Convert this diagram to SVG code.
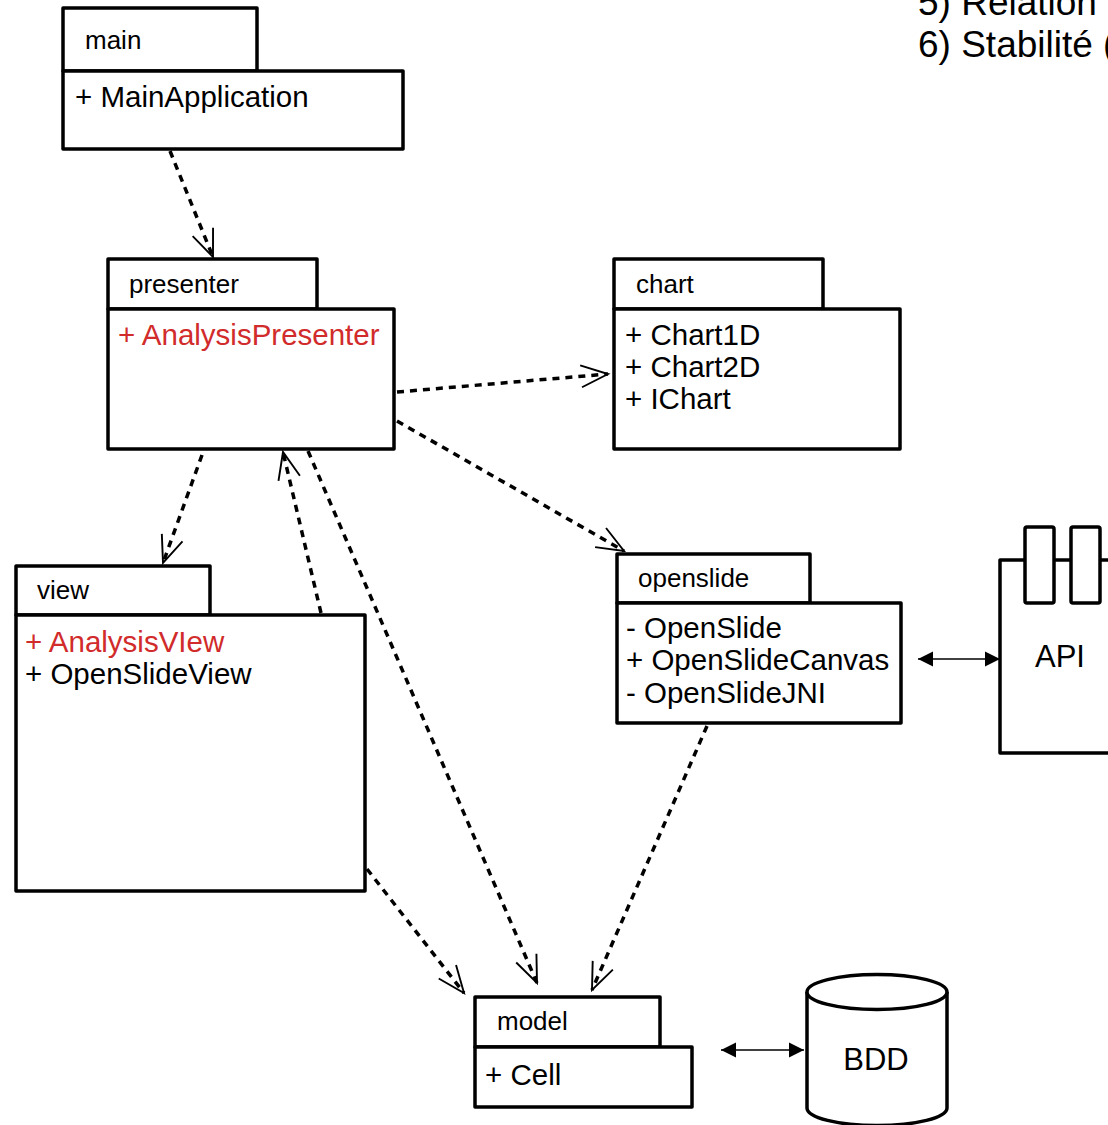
<svg xmlns="http://www.w3.org/2000/svg" width="1108" height="1125" viewBox="0 0 1108 1125">
  <style>
    text { font-family: "Liberation Sans", Arial, sans-serif; fill: #000; }
    .box { fill: #fff; stroke: #000; stroke-width: 3.5; stroke-linejoin: round; }
    .tab { font-size: 26px; }
    .item { font-size: 29.5px; }
    .red { fill: #d12b2b; }
    .dep { fill: none; stroke: #000; stroke-width: 3.5; stroke-dasharray: 7 6; marker-end: url(#open); }
    .link { fill: none; stroke: #000; stroke-width: 1.4; marker-start: url(#solid); marker-end: url(#solid); }
    .note { font-size: 37px; }
  </style>
  <defs>
    <marker id="open" markerUnits="userSpaceOnUse" orient="auto" refX="0" refY="0" markerWidth="40" markerHeight="40" style="overflow:visible">
      <path d="M-27,-11 L0,0 L-27,11" fill="none" stroke="#000" stroke-width="1.9" stroke-dasharray="none"/>
    </marker>
    <marker id="solid" markerUnits="userSpaceOnUse" orient="auto-start-reverse" refX="0" refY="0" markerWidth="30" markerHeight="30" style="overflow:visible">
      <path d="M-15,-7.5 L0,0 L-15,7.5 Z" fill="#000" stroke="none"/>
    </marker>
  </defs>

  <rect width="1108" height="1125" fill="#fff"/>

  <!-- notes list, top right -->
  <g id="notes">
    <text class="note" x="918" y="15">5) Relation</text>
    <text class="note" x="918" y="57">6) Stabilité (</text>
  </g>

  <!-- dependency connectors -->
  <g id="connectors">
    <line class="dep" x1="170" y1="151" x2="213" y2="257"/>
    <line class="dep" x1="397" y1="392" x2="608" y2="374"/>
    <line class="dep" x1="397" y1="421" x2="624" y2="551"/>
    <line class="dep" x1="202" y1="455" x2="163" y2="563"/>
    <line class="dep" x1="321" y1="613" x2="283" y2="452"/>
    <line class="dep" x1="308" y1="451" x2="537" y2="983"/>
    <line class="dep" x1="367" y1="869" x2="464" y2="993"/>
    <line class="dep" x1="707" y1="726" x2="592" y2="990"/>
    <line class="link" x1="918" y1="659" x2="1000" y2="659"/>
    <line class="link" x1="721" y1="1050" x2="804" y2="1050"/>
  </g>

  <g id="main">
    <rect class="box" x="63" y="8" width="194" height="63"/>
    <rect class="box" x="63" y="71" width="340" height="78"/>
    <text class="tab" x="85" y="49">main</text>
    <text class="item" x="75" y="107">+ MainApplication</text>
  </g>

  <g id="presenter">
    <rect class="box" x="108" y="259" width="209" height="50"/>
    <rect class="box" x="108" y="309" width="286" height="140"/>
    <text class="tab" x="129" y="293">presenter</text>
    <text class="item red" x="118" y="345">+ AnalysisPresenter</text>
  </g>

  <g id="chart">
    <rect class="box" x="614" y="259" width="209" height="50"/>
    <rect class="box" x="614" y="309" width="286" height="140"/>
    <text class="tab" x="636" y="293">chart</text>
    <text class="item" x="625" y="345">+ Chart1D</text>
    <text class="item" x="625" y="377">+ Chart2D</text>
    <text class="item" x="625" y="409">+ IChart</text>
  </g>

  <g id="openslide">
    <rect class="box" x="617" y="554" width="193" height="49"/>
    <rect class="box" x="617" y="603" width="284" height="120"/>
    <text class="tab" x="638" y="587">openslide</text>
    <text class="item" x="626" y="638">- OpenSlide</text>
    <text class="item" x="626" y="670">+ OpenSlideCanvas</text>
    <text class="item" x="626" y="703">- OpenSlideJNI</text>
  </g>

  <g id="view">
    <rect class="box" x="16" y="566" width="194" height="49"/>
    <rect class="box" x="16" y="615" width="349" height="276"/>
    <text class="tab" x="37" y="599">view</text>
    <text class="item red" x="25" y="652">+ AnalysisVIew</text>
    <text class="item" x="25" y="684">+ OpenSlideView</text>
  </g>

  <g id="model">
    <rect class="box" x="475" y="997" width="185" height="50"/>
    <rect class="box" x="475" y="1047" width="217" height="60"/>
    <text class="tab" x="497" y="1030">model</text>
    <text class="item" x="485" y="1085">+ Cell</text>
  </g>

  <g id="api">
    <rect class="box" x="1000" y="560" width="140" height="193"/>
    <rect class="box" x="1025" y="527" width="29" height="76" rx="2"/>
    <rect class="box" x="1071" y="527" width="29" height="76" rx="2"/>
    <text x="1035" y="667" font-size="31">API</text>
  </g>

  <g id="bdd">
    <path class="box" d="M807,992 L807,1108 A70,17.5 0 0 0 947,1108 L947,992"/>
    <ellipse class="box" cx="877" cy="992" rx="70" ry="17.5"/>
    <text x="876" y="1070" font-size="31" text-anchor="middle">BDD</text>
  </g>
</svg>
